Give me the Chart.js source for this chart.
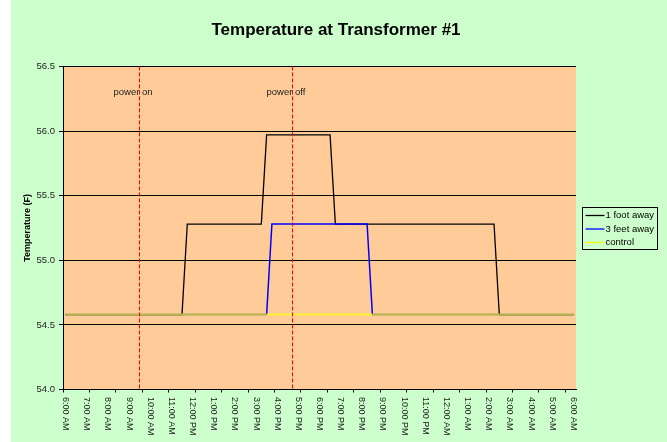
<!DOCTYPE html>
<html>
<head>
<meta charset="utf-8">
<script src="https://cdn.jsdelivr.net/npm/chart.js@4/dist/chart.umd.min.js"></script>
<style>
  html, body { margin: 0; padding: 0; background: #fff; }
  #wrap { width: 667px; height: 442px; }
</style>
</head>
<body>
<div id="wrap"><canvas id="myChart" width="667" height="442"></canvas></div>
<script>
// hours after 6:00 AM, one label per hour
const timeLabels = ['6:00 AM', '7:00 AM', '8:00 AM', '9:00 AM', '10:00 AM', '11:00 AM', '12:00 PM',
  '1:00 PM', '2:00 PM', '3:00 PM', '4:00 PM', '5:00 PM', '6:00 PM', '7:00 PM', '8:00 PM', '9:00 PM',
  '10:00 PM', '11:00 PM', '12:00 AM', '1:00 AM', '2:00 AM', '3:00 AM', '4:00 AM', '5:00 AM', '6:00 AM']

const oneFootHours = [0, 5.5, 5.75, 9.25, 9.5, 12.5, 12.75, 20.25, 20.5, 24]
const oneFootTemps = [54.58, 54.58, 55.28, 55.28, 55.97, 55.97, 55.28, 55.28, 54.58, 54.58]

const threeFeetHours = [0, 9.5, 9.75, 14.25, 14.5, 24]
const threeFeetTemps = [54.58, 54.58, 55.28, 55.28, 54.58, 54.58]

const controlHours = [0, 24]
const controlTemps = [54.58, 54.58]

const eventHours = [3.47, 10.69]
const eventLabels = ['power on', 'power off']

const yTicks = [54.0, 54.5, 55.0, 55.5, 56.0, 56.5]

const FONT = "'Liberation Sans', Arial, sans-serif"

const toPoints = (hours, temps) => hours.map((h, i) => ({x: h, y: temps[i]}))

const chartDecor = {
    id: 'chartDecor',
    beforeDraw(chart) {
        const {ctx, chartArea} = chart
        ctx.save()
        ctx.fillStyle = '#CCFFCC'
        ctx.fillRect(11, 0, chart.width - 11, chart.height)
        ctx.fillStyle = '#FFCC99'
        ctx.fillRect(chartArea.left, chartArea.top, chartArea.right - chartArea.left, chartArea.bottom - chartArea.top)
        ctx.restore()
    },
    afterDatasetsDraw(chart) {
        const {ctx, chartArea, scales} = chart
        ctx.save()
        ctx.strokeStyle = '#FF0000'
        ctx.lineWidth = 1
        ctx.setLineDash([4, 2])
        ctx.font = '9.5px ' + FONT
        ctx.fillStyle = '#222'
        ctx.textBaseline = 'middle'
        eventHours.forEach((h, i) => {
            const x = Math.round(scales.x.getPixelForValue(h)) + 0.5
            ctx.beginPath()
            ctx.moveTo(x, chartArea.top)
            ctx.lineTo(x, chartArea.bottom)
            ctx.stroke()
            ctx.fillText(eventLabels[i], x - 26, scales.y.getPixelForValue(56.3))
        })
        ctx.restore()
    },
    afterDraw(chart) {
        const {ctx, scales} = chart
        ctx.save()
        // x labels, rotated clockwise
        ctx.font = '9px ' + FONT
        ctx.fillStyle = '#222'
        ctx.textAlign = 'left'
        ctx.textBaseline = 'middle'
        timeLabels.forEach((lbl, h) => {
            const x = scales.x.getPixelForValue(h)
            ctx.save()
            ctx.translate(x, scales.x.top + 7.5)
            ctx.rotate(Math.PI / 2)
            ctx.fillText(lbl, 0, 0)
            ctx.restore()
        })

        // legend box
        const lx = 582.5, ly = 207.5, lw = 75, lh = 42
        ctx.strokeStyle = '#000'
        ctx.lineWidth = 1
        ctx.setLineDash([])
        ctx.strokeRect(lx, ly, lw, lh)
        ctx.font = '9.5px ' + FONT
        ctx.fillStyle = '#000'
        chart.data.datasets.forEach((ds, i) => {
            const y = ly + 8 + i * 13.5
            ctx.strokeStyle = ds.legendColor
            ctx.lineWidth = 1.3
            ctx.beginPath()
            ctx.moveTo(lx + 3, y)
            ctx.lineTo(lx + 22, y)
            ctx.stroke()
            ctx.fillText(ds.label, lx + 23, y)
        })
        ctx.restore()
    }
}

const ctx = document.getElementById('myChart').getContext('2d')
new Chart(ctx, {
    type: 'line',
    data: {
        datasets: [
            {
                label: '1 foot away',
                data: toPoints(oneFootHours, oneFootTemps),
                borderColor: '#000000',
                legendColor: '#000000',
                borderWidth: 1.3,
                order: 2
            },
            {
                label: '3 feet away',
                data: toPoints(threeFeetHours, threeFeetTemps),
                borderColor: '#0000FF',
                legendColor: '#0000FF',
                borderWidth: 1.5,
                order: 1
            },
            {
                label: 'control',
                data: toPoints(controlHours, controlTemps),
                borderColor: 'rgba(255,255,0,0.7)',
                legendColor: '#FFFF00',
                borderWidth: 2,
                order: 0
            }
        ]
    },
    options: {
        responsive: false,
        animation: false,
        devicePixelRatio: 1,
        layout: { padding: { left: 5, right: 0, top: 0, bottom: 0 } },
        elements: { point: { radius: 0 }, line: { tension: 0 } },
        plugins: {
            legend: { display: false },
            tooltip: { enabled: false },
            title: {
                display: true,
                text: 'Temperature at Transformer #1',
                color: '#000',
                font: { family: FONT, size: 17, weight: 'bold', lineHeight: 1.2 },
                padding: { top: 20, bottom: 26 }
            }
        },
        scales: {
            x: {
                type: 'linear',
                min: -0.125,
                max: 24.125,
                afterBuildTicks(scale) {
                    // excel style tick marks every 5 samples (75 min), on sample boundaries
                    const t = []
                    for (let v = -0.125; v <= 24.125 + 1e-9; v += 1.25) t.push({value: v})
                    scale.ticks = t
                },
                afterFit(scale) { scale.height = 52.5 },
                ticks: { display: false },
                grid: { drawOnChartArea: false, drawTicks: true, tickLength: 3, color: '#000' },
                border: { display: true, color: '#000', width: 1 }
            },
            y: {
                min: 54,
                max: 56.5,
                afterBuildTicks(scale) { scale.ticks = yTicks.map(v => ({value: v})) },
                afterFit(scale) { scale.width = 58 },
                ticks: {
                    color: '#222',
                    font: { family: FONT, size: 9.5 },
                    padding: 4,
                    callback: v => v.toFixed(1)
                },
                grid: { color: '#000', lineWidth: 1, tickLength: 4 },
                border: { display: true, color: '#000', width: 1 },
                title: {
                    display: true,
                    text: 'Temperature (F)',
                    color: '#000',
                    font: { family: FONT, size: 9, weight: 'bold', lineHeight: 1.2 },
                    padding: { top: 17, bottom: 0 }
                }
            },
            // empty right-hand box that keeps room for the legend
            yRight: {
                position: 'right',
                display: true,
                afterFit(scale) { scale.width = 91 },
                ticks: { display: false },
                grid: { display: false, drawTicks: false },
                border: { display: false }
            }
        }
    },
    plugins: [chartDecor]
})
</script>
</body>
</html>
